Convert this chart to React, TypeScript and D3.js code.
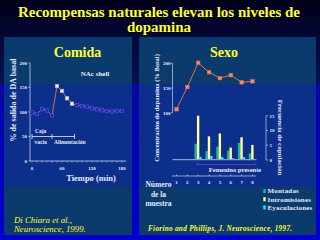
import React from "react";
import * as d3 from "d3";

const titleLines = ["Recompensas naturales elevan los niveles de", "dopamina"];

// Left panel: Comida
const timeMin = [0, 10, 20, 30, 40, 50, 60, 70, 80, 90, 100, 110, 120, 130, 140, 150, 160, 170, 180];
const daPct = [99, 96, 106, 103, 93, 153, 143, 128, 117, 114, 112, 111, 107.5, 105.5, 103.5, 102, 101, 102, 102];
const whiteMarkerTimes = [50, 60, 70, 80];
const leftYTicks = [0, 50, 100, 150, 200];
const leftXTicks = [0, 60, 120, 180];
const bracketTimes = [0, 40, 85];

// Right panel: Sexo
const samples = [1, 2, 3, 4, 5, 6, 7, 8];
const concPct = [107, 152, 201, 182, 170, 176, 161.5, 163.5];
const montadas = [0, 0, 5.5, 3, 4.5, 3.2, 5.8, 2.2];
const intromisiones = [0, 0, 15, 8, 9, 4.2, 7.7, 5.1];
const eyaculaciones = [0, 0, 1.1, 1.4, 1, 0.6, 1, 0];
const concTicks = [100, 150, 200];
const freqTicks = [0, 5, 10, 15];
const seriesNames = ["Montadas", "Intromisiones", "Eyaculaciones"];
const seriesColors = ["#1fb894", "#ffff9c", "#10f0ff"];
const femaleRange = [2.9, 8.3];

const SERIF = "'Liberation Serif', 'Times New Roman', serif";
const YEL = "#ffff33";
const WH = "#e8ecf8";
const AX = "#c8cfe8";

export default function App() {
  const xL = d3.scaleLinear().domain([0, 180]).range([32, 122]);
  const yL = d3.scaleLinear().domain([0, 200]).range([161, 63]);
  const lineL = d3
    .line<number>()
    .x((_, i) => xL(timeMin[i]))
    .y((d) => yL(d));

  const xR = d3.scaleLinear().domain([1, 8]).range([176.5, 252.5]);
  const yC = d3.scaleLinear().domain([100, 200]).range([112.7, 63.3]);
  const yF = d3.scaleLinear().domain([0, 15]).range([160, 115.7]);
  const band = d3.scaleBand<string>().domain(seriesNames).range([-3.7, 3.5]).padding(0);
  const lineR = d3
    .line<number>()
    .x((_, i) => xR(samples[i]))
    .y((d) => yC(d));
  const seriesValues = [montadas, intromisiones, eyaculaciones];

  const minorTicks = d3.range(0, 181, 10);

  return (
    <svg width={320} height={240} style={{ position: "absolute", left: 0, top: 0 }} fontFamily={SERIF}>
      <defs>
        <linearGradient id="bg" x1="0" y1="0" x2="0" y2="1">
          <stop offset="0" stopColor="#00001a" />
          <stop offset="0.35" stopColor="#0a1058" />
          <stop offset="0.35" stopColor="#0808a2" />
          <stop offset="1" stopColor="#0000d2" />
        </linearGradient>
      </defs>
      <rect x={0} y={0} width={320} height={240} fill="url(#bg)" />

      {/* panels */}
      {[
        [4, 128],
        [139, 177],
      ].map(([x, w], i) => (
        <g key={i}>
          <rect x={x} y={37} width={w} height={47} fill="#0b3a6c" />
          <rect x={x} y={84} width={w} height={103} fill="#0b2f8a" />
          <rect x={x} y={187} width={w} height={48} fill="#0b3a6c" />
        </g>
      ))}

      {/* title */}
      {titleLines.map((t, i) => (
        <text key={i} x={159} y={17 + i * 15} textAnchor="middle" fill={YEL} fontWeight="bold" fontSize={15}>
          {t}
        </text>
      ))}

      {/* ===== Left panel ===== */}
      <text x={77.5} y={57} textAnchor="middle" fill={YEL} fontWeight="bold" fontSize={14}>
        Comida
      </text>
      <text x={95} y={76} textAnchor="middle" fill={WH} fontWeight="bold" fontSize={7}>
        NAc shell
      </text>
      {/* axes */}
      <line x1={30} x2={30} y1={63} y2={161} stroke={AX} strokeWidth={0.8} />
      <line x1={30} x2={126} y1={161} y2={161} stroke={AX} strokeWidth={0.8} />
      {leftYTicks.map((t) => (
        <g key={t}>
          <line x1={28.5} x2={30} y1={yL(t)} y2={yL(t)} stroke={AX} strokeWidth={0.8} />
          <text x={27} y={yL(t) + 1.8} textAnchor="end" fill={WH} fontWeight="bold" fontSize={5}>
            {t}
          </text>
        </g>
      ))}
      {minorTicks.map((t) => (
        <line key={t} x1={xL(t)} x2={xL(t)} y1={161} y2={162.5} stroke={AX} strokeWidth={0.6} />
      ))}
      {leftXTicks.map((t) => (
        <text key={t} x={xL(t)} y={170} textAnchor="middle" fill={WH} fontWeight="bold" fontSize={5}>
          {t}
        </text>
      ))}
      <text x={91} y={181} textAnchor="middle" fill={WH} fontWeight="bold" fontSize={8.5}>
        Tiempo (min)
      </text>
      <text
        transform="translate(15.5,100) rotate(-90)"
        textAnchor="middle"
        fill={WH}
        fontWeight="bold"
        fontSize={8}
      >
        % de salida de DA basal
      </text>
      {/* bracket */}
      <line x1={xL(bracketTimes[0])} x2={xL(bracketTimes[2])} y1={136.5} y2={136.5} stroke={WH} strokeWidth={0.8} />
      {bracketTimes.map((t) => (
        <line key={t} x1={xL(t)} x2={xL(t)} y1={134} y2={139} stroke={WH} strokeWidth={0.8} />
      ))}
      <text x={35} y={133} fill={WH} fontWeight="bold" fontSize={5.5}>
        Caja
      </text>
      <text x={34.5} y={144} fill={WH} fontWeight="bold" fontSize={5.5}>
        vacia
      </text>
      <text x={54} y={144} fill={WH} fontWeight="bold" fontSize={5.5}>
        Alimentación
      </text>
      {/* data */}
      <path d={lineL(daPct) || ""} fill="none" stroke="#e88450" strokeWidth={0.8} />
      {daPct.map((v, i) => {
        const white = whiteMarkerTimes.includes(timeMin[i]);
        return (
          <rect
            key={i}
            x={xL(timeMin[i]) - 1.7}
            y={yL(v) - 1.7}
            width={3.4}
            height={3.4}
            fill={white ? "#f4f4ec" : "#2222a8"}
            stroke={white ? "#b0b0b0" : "#5050f0"}
            strokeWidth={0.7}
          />
        );
      })}
      <text x={14} y={223} fill={YEL} fontStyle="italic" fontSize={8.8}>
        Di Chiara et al.,
      </text>
      <text x={14} y={232} fill={YEL} fontStyle="italic" fontSize={8.8}>
        Neuroscience, 1999.
      </text>

      {/* ===== Right panel ===== */}
      <text x={224} y={57} textAnchor="middle" fill={YEL} fontWeight="bold" fontSize={14}>
        Sexo
      </text>
      <text
        transform="translate(158.5,108) rotate(-90)"
        textAnchor="middle"
        fill={WH}
        fontWeight="bold"
        fontSize={6.5}
      >
        Concentración de dopamina (% Basal)
      </text>
      <line x1={172.5} x2={172.5} y1={63.3} y2={112.7} stroke={AX} strokeWidth={0.7} />
      {concTicks.map((t) => (
        <g key={t}>
          <line x1={171} x2={172.5} y1={yC(t)} y2={yC(t)} stroke={AX} strokeWidth={0.7} />
          <text x={170.5} y={yC(t) + 1.8} textAnchor="end" fill={WH} fontWeight="bold" fontSize={5}>
            {t}
          </text>
        </g>
      ))}
      <path d={lineR(concPct) || ""} fill="none" stroke="#ec7c58" strokeWidth={0.9} />
      {concPct.map((v, i) => (
        <rect
          key={i}
          x={xR(samples[i]) - 1.8}
          y={yC(v) - 1.8}
          width={3.6}
          height={3.6}
          fill="#f48868"
          stroke="#e07050"
          strokeWidth={0.5}
        />
      ))}

      {/* bars */}
      {seriesValues.map((vals, si) =>
        vals.map((v, i) =>
          v > 0 ? (
            <rect
              key={`${si}-${i}`}
              x={xR(samples[i]) + (band(seriesNames[si]) as number)}
              y={yF(v)}
              width={band.bandwidth()}
              height={yF(0) - yF(v)}
              fill={seriesColors[si]}
            />
          ) : null
        )
      )}
      <line x1={172.5} x2={256.5} y1={159.6} y2={159.6} stroke="#8a9ad8" strokeWidth={1.2} />
      {/* right freq axis */}
      <line x1={266} x2={266} y1={yF(15)} y2={yF(0)} stroke={AX} strokeWidth={0.7} />
      {freqTicks.map((t) => (
        <g key={t}>
          <line x1={266} x2={268} y1={yF(t)} y2={yF(t)} stroke={AX} strokeWidth={0.7} />
          <text x={269.5} y={yF(t) + 1.8} fill={WH} fontWeight="bold" fontSize={5}>
            {t}
          </text>
        </g>
      ))}
      <text
        transform="translate(278,137.5) rotate(90)"
        textAnchor="middle"
        fill={WH}
        fontWeight="bold"
        fontSize={7}
      >
        Frecuencia de copulación
      </text>
      {/* female present bracket */}
      <path
        d={`M${xR(femaleRange[0])},162.5 V164.5 H${xR(femaleRange[1])} V162.5`}
        fill="none"
        stroke="#6a3cc8"
        strokeWidth={0.9}
      />
      <text x={235} y={172} textAnchor="middle" fill={WH} fontWeight="bold" fontSize={6.5}>
        Femenino presente
      </text>
      {/* sample axis */}
      <line x1={172} x2={256} y1={176} y2={176} stroke={AX} strokeWidth={0.7} />
      {samples.map((s) => (
        <g key={s}>
          <line x1={xR(s)} x2={xR(s)} y1={174.5} y2={176} stroke={AX} strokeWidth={0.7} />
          <text x={xR(s)} y={184} textAnchor="middle" fill={WH} fontWeight="bold" fontSize={5}>
            {s}
          </text>
        </g>
      ))}
      {["Número", "de la", "muestra"].map((t, i) => (
        <text key={t} x={158.5} y={187 + i * 9.5} textAnchor="middle" fill={WH} fontWeight="bold" fontSize={7.5}>
          {t}
        </text>
      ))}
      {/* legend */}
      {seriesNames.map((n, i) => (
        <g key={n}>
          <rect x={263.3} y={189 + i * 8.2} width={2.4} height={4} fill={seriesColors[i]} />
          <text x={267.5} y={193.3 + i * 8.2} fill={WH} fontWeight="bold" fontSize={7} letterSpacing={0.2}>
            {n}
          </text>
        </g>
      ))}
      <text x={148} y={230.5} fill={YEL} fontStyle="italic" fontWeight="bold" fontSize={7.2} letterSpacing={0.3}>
        Fiorino and Phillips, J. Neuroscience, 1997.
      </text>
    </svg>
  );
}
